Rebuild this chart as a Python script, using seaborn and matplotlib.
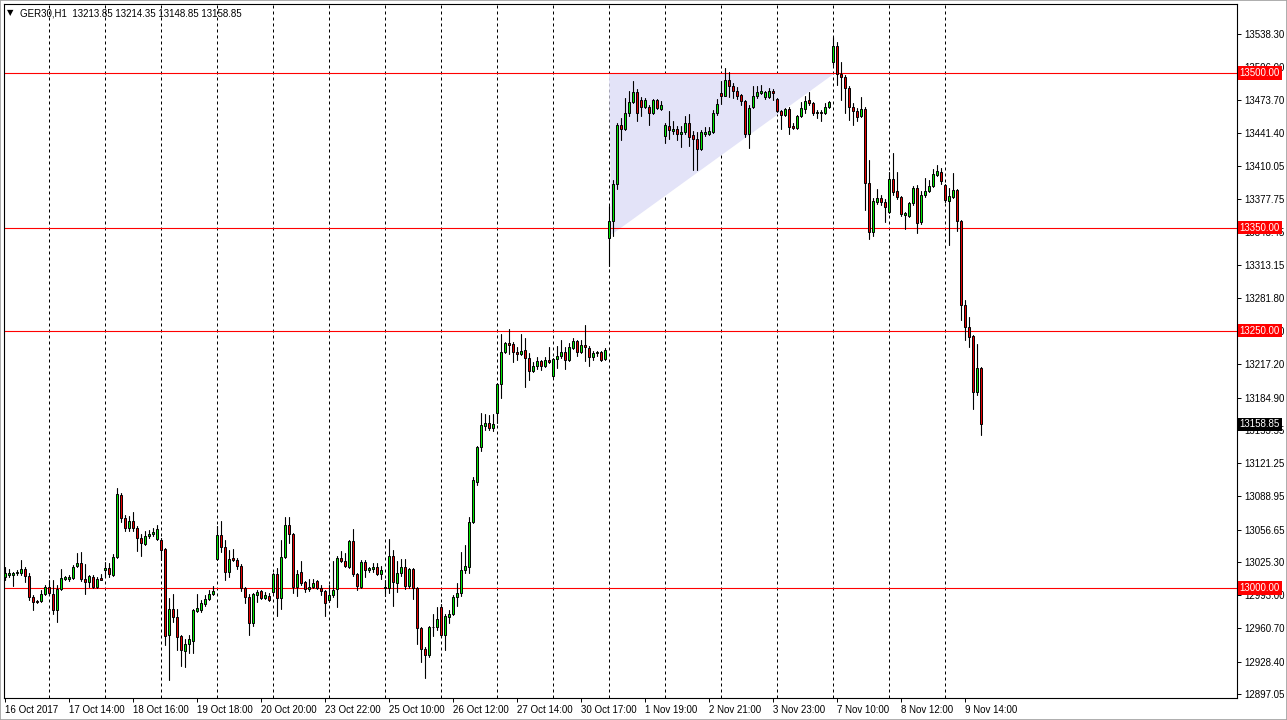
import pandas as pd
import seaborn as sns
import matplotlib.pyplot as plt
import matplotlib.transforms as mtransforms
from matplotlib.patches import Polygon, Rectangle

# GER30 H1 candles, 16 Oct - 9 Nov 2017
opens = [
    13011, 13013, 13013, 13015, 13015, 13018, 13012, 12991, 12987, 12987,
    12994, 13001, 12994, 12979, 12999, 13009, 13009, 13010, 13021, 13024,
    13009, 13006, 13011, 13001, 13010, 13017, 13019, 13013, 13030, 13090,
    13068, 13058, 13065, 13058, 13049, 13043, 13050, 13052, 13048, 13047,
    13038, 12954, 12980, 12972, 12953, 12939, 12946, 12949, 12978, 12979,
    12984, 12989, 12994, 13028, 13051, 13040, 13016, 13029, 13027, 13021,
    13000, 12991, 12966, 12993, 12997, 12990, 12992, 12996, 13014, 12990,
    13030, 13061, 13052, 13001, 13016, 13006, 12999, 13001, 13007, 13000,
    12997, 12988, 12993, 12999, 13029, 13026, 13020, 13046, 13014, 13001,
    13025, 13017, 13018, 13020, 13014, 13000, 13000, 13031, 13005, 13015,
    13020, 13002, 13018, 13000, 12961, 12941, 12935, 12962, 12962, 12982,
    12954, 12972, 12975, 12991, 12995, 13017, 13020, 13064, 13103, 13137,
    13157, 13160, 13155, 13170, 13198, 13229, 13238, 13237, 13229, 13227,
    13231, 13223, 13211, 13216, 13220, 13216, 13221, 13206, 13222, 13225,
    13229, 13221, 13233, 13240, 13229, 13236, 13233, 13224, 13228, 13229,
    13222, 13340, 13356, 13392, 13450, 13446, 13461, 13472, 13482, 13474,
    13467, 13467, 13461, 13474, 13465, 13439, 13449, 13444, 13446, 13441,
    13443, 13451, 13440, 13436, 13426, 13441, 13441, 13443, 13461, 13481,
    13478, 13493, 13487, 13483, 13479, 13473, 13441, 13467, 13478, 13481,
    13477, 13477, 13483, 13475, 13463, 13459, 13465, 13449, 13447, 13458,
    13465, 13474, 13471, 13461, 13462, 13461, 13467, 13511, 13526, 13499,
    13496, 13485, 13467, 13463, 13458, 13465, 13393, 13346, 13375, 13379,
    13375, 13365, 13397, 13385, 13380, 13362, 13361, 13374, 13388, 13355,
    13382, 13385, 13390, 13401, 13404, 13391, 13376, 13380, 13386, 13356,
    13275, 13253, 13245, 13190, 13213.85,
]
highs = [
    13020, 13018, 13016, 13017, 13027, 13020, 13015, 12993, 12988, 12998,
    13003, 13008, 13008, 13003, 13018, 13012, 13013, 13022, 13034, 13035,
    13023, 13013, 13013, 13011, 13014, 13025, 13024, 13033, 13097, 13092,
    13071, 13070, 13074, 13060, 13052, 13055, 13056, 13058, 13061, 13049,
    13039, 12990, 12994, 12980, 12954, 12950, 12954, 12980, 12994, 12988,
    12993, 12998, 13002, 13060, 13065, 13047, 13037, 13038, 13029, 13023,
    13001, 12994, 12995, 12998, 12998, 12996, 12995, 13015, 13019, 13047,
    13069, 13069, 13053, 13017, 13026, 13007, 13009, 13009, 13008, 13003,
    12998, 13003, 13026, 13031, 13036, 13034, 13047, 13057, 13015, 13027,
    13027, 13020, 13024, 13024, 13021, 13008, 13048, 13037, 13026, 13028,
    13028, 13019, 13019, 13001, 12962, 12943, 12963, 12975, 12982, 12984,
    12975, 12979, 12993, 13005, 13035, 13042, 13069, 13108, 13138, 13170,
    13169, 13168, 13169, 13199, 13247, 13239, 13251, 13239, 13234, 13247,
    13243, 13228, 13219, 13224, 13221, 13224, 13234, 13223, 13235, 13241,
    13234, 13238, 13243, 13241, 13241, 13255, 13235, 13230, 13230, 13230,
    13233, 13371, 13396, 13451, 13456, 13476, 13483, 13492, 13484, 13477,
    13476, 13469, 13475, 13475, 13473, 13451, 13463, 13453, 13449, 13449,
    13458, 13460, 13444, 13443, 13445, 13448, 13448, 13464, 13475, 13492,
    13505, 13501, 13490, 13486, 13480, 13474, 13469, 13487, 13487, 13488,
    13483, 13485, 13484, 13476, 13464, 13466, 13467, 13451, 13459, 13472,
    13478, 13482, 13472, 13464, 13464, 13471, 13473, 13535, 13530, 13511,
    13498, 13487, 13471, 13466, 13477, 13467, 13416, 13379, 13387, 13382,
    13378, 13404, 13422, 13404, 13381, 13365, 13375, 13390, 13391, 13385,
    13398, 13396, 13407, 13411, 13408, 13392, 13388, 13403, 13387, 13357,
    13280, 13263, 13246, 13237, 13214.35,
]
lows = [
    13008, 13011, 13002, 13013, 13013, 13006, 12988, 12979, 12985, 12986,
    12993, 12993, 12975, 12967, 12998, 13008, 13007, 13009, 13020, 13007,
    12994, 13001, 13000, 13000, 13008, 13011, 13011, 13012, 13029, 13064,
    13055, 13055, 13055, 13036, 13031, 13042, 13049, 13050, 13047, 13027,
    12945, 12911, 12967, 12940, 12924, 12923, 12937, 12937, 12977, 12977,
    12983, 12988, 12993, 13027, 13035, 13008, 13011, 13026, 13018, 12997,
    12985, 12954, 12963, 12986, 12989, 12989, 12987, 12995, 12973, 12980,
    13029, 13044, 12995, 12992, 13003, 12996, 12997, 13000, 12999, 12993,
    12973, 12986, 12991, 12982, 13025, 13020, 13019, 13012, 12998, 13000,
    13011, 13016, 13016, 13013, 13009, 12992, 12995, 12983, 12996, 13012,
    12999, 13000, 12989, 12946, 12928, 12913, 12933, 12953, 12959, 12952,
    12940, 12966, 12974, 12983, 12992, 13015, 13015, 13063, 13100, 13133,
    13153, 13153, 13152, 13160, 13184, 13228, 13227, 13219, 13221, 13226,
    13195, 13202, 13210, 13213, 13212, 13215, 13218, 13205, 13214, 13223,
    13213, 13220, 13232, 13225, 13228, 13220, 13216, 13221, 13225, 13220,
    13221, 13313, 13342, 13387, 13435, 13445, 13458, 13471, 13453, 13458,
    13466, 13450, 13460, 13465, 13464, 13432, 13436, 13441, 13435, 13428,
    13441, 13429, 13406, 13406, 13425, 13439, 13440, 13442, 13459, 13470,
    13478, 13477, 13476, 13475, 13469, 13438, 13427, 13466, 13476, 13480,
    13475, 13476, 13474, 13462, 13446, 13458, 13441, 13446, 13446, 13457,
    13461, 13469, 13459, 13456, 13453, 13460, 13466, 13508, 13488, 13474,
    13461, 13454, 13450, 13453, 13457, 13367, 13339, 13342, 13373, 13372,
    13355, 13364, 13382, 13378, 13361, 13349, 13360, 13372, 13345, 13353,
    13380, 13384, 13389, 13400, 13392, 13375, 13333, 13379, 13347, 13260,
    13241, 13234, 13174, 13187, 13148.85,
]
closes = [
    13015, 13015, 13015, 13016, 13018, 13012, 12991, 12986, 12986, 12994,
    13001, 12995, 12979, 12999, 13010, 13011, 13011, 13020, 13024, 13009,
    13006, 13012, 13001, 13009, 13008, 13019, 13014, 13030, 13091, 13068,
    13058, 13065, 13058, 13049, 13044, 13050, 13052, 13054, 13057, 13037,
    12953, 12980, 12972, 12952, 12940, 12946, 12950, 12979, 12981, 12985,
    12989, 12994, 12997, 13051, 13040, 13016, 13028, 13027, 13021, 13000,
    12991, 12966, 12994, 12996, 12990, 12993, 12988, 13014, 12990, 13030,
    13061, 13052, 13001, 13014, 13005, 12999, 13001, 13005, 13000, 12997,
    12985, 12993, 12998, 13029, 13026, 13021, 13046, 13014, 13002, 13025,
    13017, 13019, 13020, 13014, 13017, 13001, 13031, 13006, 13015, 13020,
    13002, 13018, 13000, 12961, 12941, 12935, 12962, 12962.5, 12970, 12954,
    12973, 12975, 12991, 12995, 13017, 13021, 13064, 13105, 13137, 13158,
    13160, 13155, 13159, 13198, 13229, 13238, 13236, 13229, 13227, 13230,
    13223, 13211, 13216, 13220, 13216, 13221, 13219, 13222, 13225, 13229,
    13221, 13234, 13240, 13229, 13236, 13234, 13224, 13228, 13229, 13221,
    13231, 13356, 13392, 13450, 13446, 13461, 13472, 13482, 13461, 13467,
    13474, 13461, 13474, 13466, 13469, 13450, 13445, 13446, 13441, 13443,
    13451, 13438, 13436, 13426, 13443, 13443, 13444, 13461, 13470, 13478,
    13493, 13487, 13483, 13478, 13473, 13441, 13466, 13478, 13482, 13483,
    13482, 13483, 13481, 13463, 13459, 13465, 13448, 13447, 13458, 13466,
    13473, 13471, 13461, 13462, 13461, 13467, 13472, 13526, 13499, 13496,
    13485, 13467, 13463, 13457, 13465, 13393, 13346, 13376, 13379, 13375,
    13370, 13397, 13384, 13380, 13363, 13364, 13374, 13388, 13354, 13382,
    13385, 13390, 13402, 13405, 13395, 13377, 13381, 13386, 13356, 13275,
    13253, 13244, 13190, 13214, 13158.85,
]

time_labels = ['16 Oct 2017', '17 Oct 14:00', '18 Oct 16:00', '19 Oct 18:00',
               '20 Oct 20:00', '23 Oct 22:00', '25 Oct 10:00', '26 Oct 12:00',
               '27 Oct 14:00', '30 Oct 17:00', '1 Nov 19:00', '2 Nov 21:00',
               '3 Nov 23:00', '7 Nov 10:00', '8 Nov 12:00', '9 Nov 14:00']
label_bars = list(range(0, 16 * len(time_labels), 16))

price_ticks = [12897.05, 12928.40, 12960.70, 12993.00, 13025.30, 13056.65,
               13088.95, 13121.25, 13153.55, 13184.90, 13217.20, 13249.50,
               13281.80, 13313.15, 13345.45, 13377.75, 13410.05, 13441.40,
               13473.70, 13506.00, 13538.30]
levels = [13500.00, 13350.00, 13250.00, 13000.00]
last_price = 13158.85

# shaded triangle drawn on the chart (bar index, price)
tri_bars = [151.0, 207.5, 151.6]
tri_prices = [13500.0, 13500.0, 13343.0]

header = 'GER30,H1  13213.85 13214.35 13148.85 13158.85'


def main():
    df = pd.DataFrame({'open': opens, 'high': highs, 'low': lows, 'close': closes})
    df['bar'] = range(len(df))
    df['bull'] = df['close'] >= df['open']

    # grid only where there are bars, every 14 bars
    grid_bars = list(range(11, len(df), 14))

    sns.set_style('white')
    plt.rcParams['font.family'] = ['Liberation Sans', 'DejaVu Sans']

    W, H = 1287, 720
    fig = plt.figure(figsize=(W / 100, H / 100), dpi=100)
    ax = fig.add_axes([4 / W, 1 - 698 / H, 1233 / W, 694 / H])

    ax.set_xlim(-0.25, 308)
    ax.set_ylim(12893.2, 13567.0)

    ax.vlines(grid_bars, 12893.2, 13567.0, colors='black', linewidth=0.72,
              linestyles=(0, (3, 3)), zorder=1)

    ax.add_patch(Polygon(list(zip(tri_bars, tri_prices)), closed=True,
                         facecolor='#e3e3f8', edgecolor='none', zorder=1.5))

    for p in levels:
        ax.axhline(p, color='#ff0000', linewidth=0.8, zorder=2)

    # wicks
    wicks = pd.concat([
        df[['bar', 'low']].rename(columns={'low': 'price'}),
        df[['bar', 'high']].rename(columns={'high': 'price'}),
    ])
    sns.lineplot(data=wicks, x='bar', y='price', units='bar', estimator=None,
                 color='black', linewidth=0.8, sort=False, legend=False,
                 ax=ax, zorder=3)

    # bodies
    bottoms = df[['open', 'close']].min(axis=1)
    heights = (df['close'] - df['open']).abs().clip(lower=0.4)
    colors = ['#00e600' if b else '#e60000' for b in df['bull']]
    ax.bar(df['bar'], heights, bottom=bottoms, width=0.55, color=colors,
           edgecolor='black', linewidth=0.7, zorder=4)

    ax.set_xlabel('')
    ax.set_ylabel('')

    for s in ax.spines.values():
        s.set_color('black')
        s.set_linewidth(0.8)

    ax.yaxis.tick_right()
    ax.set_yticks(price_ticks)
    ax.set_yticklabels([f'{v:.2f}' for v in price_ticks])
    ax.set_xticks(label_bars)
    ax.set_xticklabels(time_labels, ha='left')
    ax.tick_params(axis='both', which='both', length=3, width=0.7,
                   color='black', labelsize=7, labelcolor='black',
                   direction='out', pad=2)
    ax.tick_params(axis='y', left=False, right=True)
    ax.tick_params(axis='x', bottom=True)

    # price labels on the axis
    trans = mtransforms.blended_transform_factory(ax.transAxes, ax.transData)
    for p in levels:
        ax.text(1.0022, p, f'{p:.2f}', transform=trans, color='white',
                fontsize=7, va='center', ha='left', zorder=10, clip_on=False,
                bbox=dict(boxstyle='square,pad=0.18', fc='#ff0000', ec='none'))
    ax.text(1.0022, last_price, f'{last_price:.2f}', transform=trans,
            color='white', fontsize=7, va='center', ha='left', zorder=10,
            clip_on=False,
            bbox=dict(boxstyle='square,pad=0.18', fc='black', ec='none'))

    fig.text(7 / W, 1 - 13 / H, '\u25bc', fontsize=6, color='black',
             va='center', ha='left', family=['DejaVu Sans'])
    fig.text(20 / W, 1 - 13 / H, header, fontsize=7, color='black',
             va='center', ha='left')

    fig.add_artist(Rectangle((0, 0), 1, 1, transform=fig.transFigure,
                             fill=False, edgecolor='#a0a0a0', linewidth=1.2))

    plt.savefig('out.png', dpi=100)


if __name__ == '__main__':
    main()
